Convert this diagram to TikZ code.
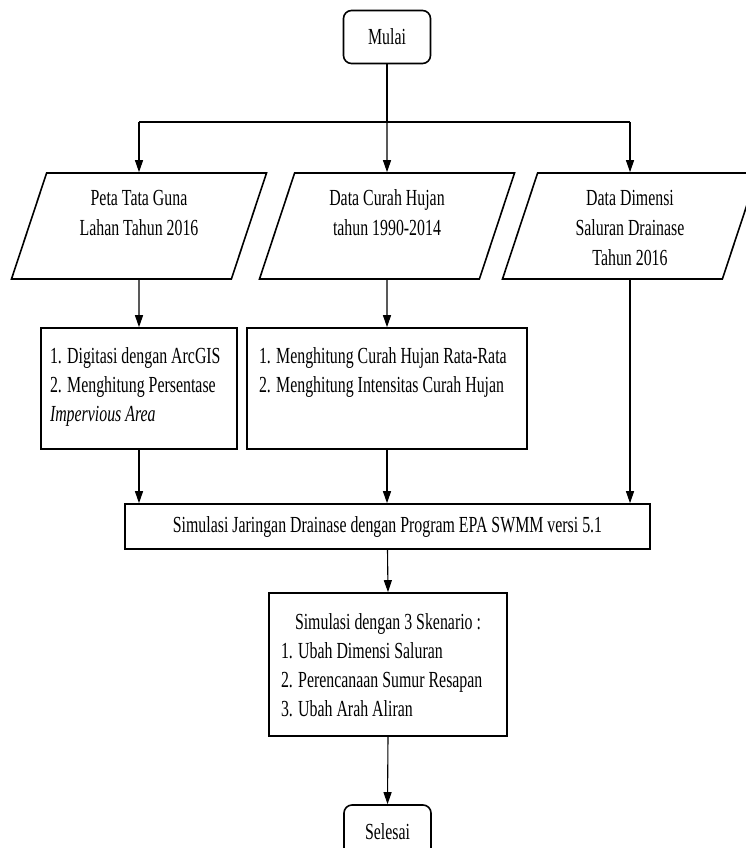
\documentclass[tikz,border=0pt]{standalone}
\usepackage{fontspec}
\setmainfont[FakeStretch=0.69]{Liberation Serif}
\usetikzlibrary{arrows.meta,positioning,shapes.geometric,calc}

\begin{document}
\begin{tikzpicture}[x=1pt, y=-1pt, >={Triangle[width=8pt,length=12pt]},
  every node/.style={font=\fontsize{23}{29}\selectfont},
  terminal/.style={draw, rounded corners=8pt, line width=1.6pt, minimum width=87pt, minimum height=53pt, inner sep=0pt},
  datain/.style={draw, trapezium, trapezium left angle=64, trapezium right angle=116, trapezium stretches body, minimum width=255pt, minimum height=106pt, line width=1.6pt, inner sep=0pt, font=\fontsize{23}{30}\selectfont},
  process/.style={draw, rectangle, line width=1.6pt, inner sep=0pt},
  line/.style={line width=1.1pt}]

  \useasboundingbox (0,0) rectangle (745,848);

  % Define nodes
  \node[terminal] (mulai) at (387,37) {Mulai};
  \coordinate (split) at (387,122);

  \node[datain] (peta) at (139,226) {\parbox[c][72pt][t]{140pt}{\centering Peta Tata Guna\\ Lahan Tahun 2016}};
  \node[datain] (curah) at (387,226) {\parbox[c][72pt][t]{140pt}{\centering Data Curah Hujan\\ tahun 1990-2014}};
  \node[datain] (dimensi) at (630,226) {\parbox[c][72pt][t]{140pt}{\centering Data Dimensi\\ Saluran Drainase\\ Tahun 2016}};

  \node[process, minimum width=196pt, minimum height=121pt] (digit) at (139,388.5) {\parbox[c][82pt][t]{178pt}{1. Digitasi dengan ArcGIS\\ 2. Menghitung Persentase\\ \textit{Impervious Area}}};
  \node[process, minimum width=280pt, minimum height=121pt] (hitung) at (387,388.5) {\parbox[c][82pt][t]{256pt}{1. Menghitung Curah Hujan Rata-Rata\\ 2. Menghitung Intensitas Curah Hujan}};

  \node[process, minimum width=525pt, minimum height=45pt] (simul) at (387.5,526.5) {Simulasi Jaringan Drainase dengan Program EPA SWMM versi 5.1};

  \node[process, minimum width=238pt, minimum height=143pt] (skenario) at (388,664.5) {\parbox[c][101pt][t]{214pt}{\centering Simulasi dengan 3 Skenario :\par\raggedright 1. Ubah Dimensi Saluran\\ 2. Perencanaan Sumur Resapan\\ 3. Ubah Arah Aliran}};

  \node[terminal] (selesai) at (387.5,831.5) {Selesai};

  % Draw arrows
  \draw[line] (mulai) -- (split);
  \draw[line] (split -| peta.north) -- (split -| dimensi.north);
  \draw[line,->] (split -| peta.north) -- (peta.north);
  \draw[line,->] (split) -- (curah.north);
  \draw[line,->] (split -| dimensi.north) -- (dimensi.north);

  \draw[line,->] (peta.south) -- (digit.north);
  \draw[line,->] (curah.south) -- (hitung.north);
  \draw[line,->] (digit.south) -- (digit.south |- simul.north);
  \draw[line,->] (hitung.south) -- (hitung.south |- simul.north);
  \draw[line,->] (dimensi.south) -- (dimensi.south |- simul.north);

  \draw[line,->] (simul.south) -- (skenario.north);
  \draw[line,->] (skenario.south) -- (selesai.north);
\end{tikzpicture}
\end{document}
